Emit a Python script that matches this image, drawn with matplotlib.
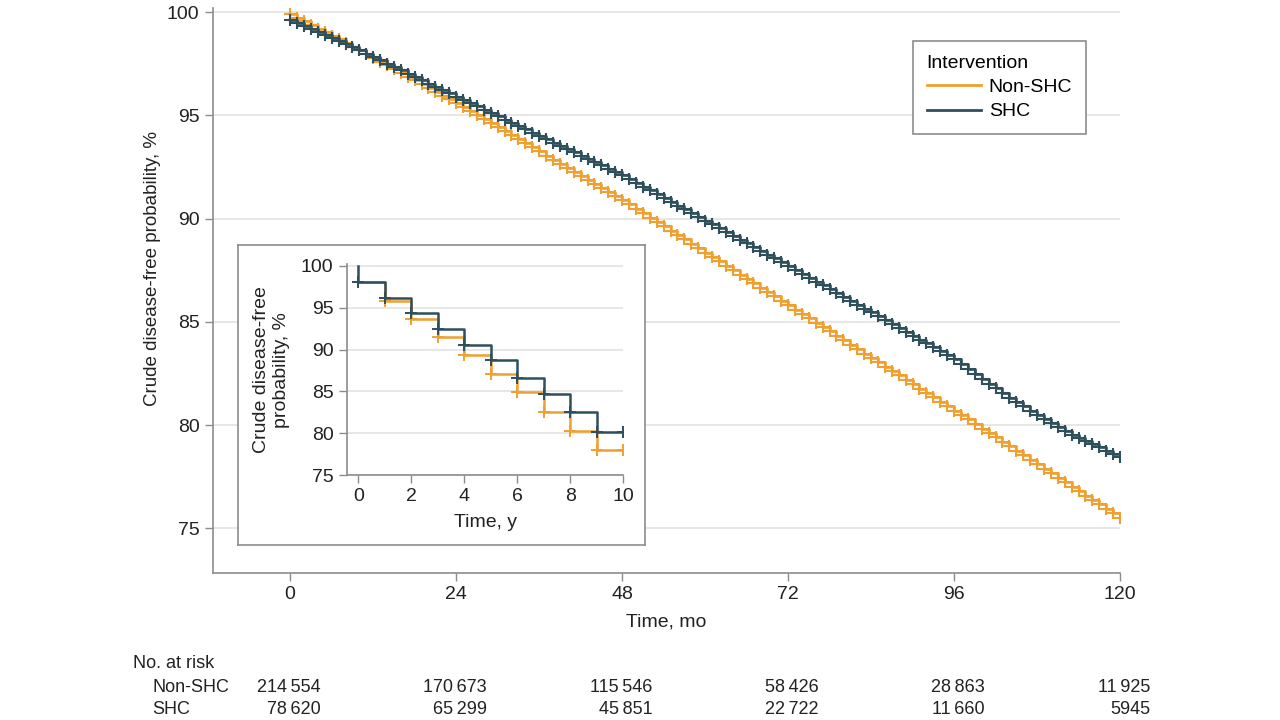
import numpy as np
import matplotlib.pyplot as plt
from matplotlib.lines import Line2D

plt.rcParams['font.family'] = ['Liberation Sans Narrow', 'Liberation Sans', 'DejaVu Sans']

ORANGE = '#F0A030'
TEAL = '#2E4F5C'
GRID = '#E3E3E3'
SPINE = '#8C8C8C'
TEXT = '#222222'

months = np.arange(0, 121)
non_shc_main = [
    99.90, 99.73, 99.55, 99.38, 99.20, 99.03, 98.85, 98.68, 98.50, 98.33,
    98.15, 97.97, 97.79, 97.60, 97.42, 97.24, 97.06, 96.87, 96.69, 96.51,
    96.33, 96.15, 95.96, 95.78, 95.60, 95.40, 95.21, 95.01, 94.82, 94.62,
    94.42, 94.23, 94.03, 93.84, 93.64, 93.45, 93.25, 93.05, 92.86, 92.66,
    92.47, 92.27, 92.08, 91.88, 91.68, 91.49, 91.29, 91.10, 90.90, 90.69,
    90.48, 90.26, 90.05, 89.84, 89.63, 89.41, 89.20, 88.99, 88.78, 88.56,
    88.35, 88.14, 87.93, 87.71, 87.50, 87.29, 87.08, 86.86, 86.65, 86.44,
    86.23, 86.01, 85.80, 85.59, 85.38, 85.16, 84.95, 84.74, 84.53, 84.31,
    84.10, 83.89, 83.68, 83.46, 83.25, 83.04, 82.83, 82.61, 82.40, 82.19,
    81.98, 81.76, 81.55, 81.34, 81.13, 80.91, 80.70, 80.48, 80.27, 80.05,
    79.83, 79.62, 79.40, 79.18, 78.97, 78.75, 78.53, 78.32, 78.10, 77.88,
    77.67, 77.45, 77.23, 77.02, 76.80, 76.58, 76.37, 76.15, 75.93, 75.72,
    75.50,
]
shc_main = [
    99.60, 99.46, 99.31, 99.17, 99.02, 98.88, 98.73, 98.59, 98.44, 98.30,
    98.15, 97.99, 97.83, 97.67, 97.51, 97.35, 97.19, 97.02, 96.86, 96.70,
    96.54, 96.38, 96.22, 96.06, 95.90, 95.74, 95.58, 95.43, 95.27, 95.11,
    94.95, 94.79, 94.63, 94.48, 94.32, 94.16, 94.00, 93.84, 93.68, 93.53,
    93.37, 93.21, 93.05, 92.89, 92.73, 92.58, 92.42, 92.26, 92.10, 91.92,
    91.73, 91.55, 91.37, 91.18, 91.00, 90.82, 90.63, 90.45, 90.27, 90.08,
    89.90, 89.72, 89.53, 89.35, 89.17, 88.98, 88.80, 88.62, 88.43, 88.25,
    88.07, 87.88, 87.70, 87.51, 87.33, 87.14, 86.95, 86.76, 86.58, 86.39,
    86.20, 86.01, 85.83, 85.64, 85.45, 85.26, 85.08, 84.89, 84.70, 84.51,
    84.33, 84.14, 83.95, 83.76, 83.58, 83.39, 83.20, 82.96, 82.73, 82.49,
    82.25, 82.01, 81.78, 81.54, 81.30, 81.10, 80.90, 80.70, 80.50, 80.30,
    80.10, 79.90, 79.70, 79.54, 79.39, 79.23, 79.08, 78.92, 78.76, 78.61,
    78.45,
]

# inset, yearly steps
years = [0, 1, 2, 3, 4, 5, 6, 7, 8, 9, 10]
non_shc_inset = [98.0, 95.8, 93.6, 91.5, 89.4, 87.1, 84.9, 82.6, 80.3, 78.0, 78.0]
shc_inset = [98.0, 96.2, 94.3, 92.5, 90.5, 88.7, 86.6, 84.7, 82.6, 80.2, 80.2]
inset_start = 100.0

# number at risk
risk_times = [0, 24, 48, 72, 96, 120]
risk_non_shc = ['214\u2009554', '170\u2009673', '115\u2009546', '58\u2009426', '28\u2009863', '11\u2009925']
risk_shc = ['78\u2009620', '65\u2009299', '45\u2009851', '22\u2009722', '11\u2009660', '5945']


def style_axes(ax):
    for side in ['top', 'right']:
        ax.spines[side].set_visible(False)
    for side in ['left', 'bottom']:
        ax.spines[side].set_color(SPINE)
        ax.spines[side].set_linewidth(1.2)
    ax.tick_params(colors=SPINE, labelcolor=TEXT, length=6, width=1.0)
    ax.yaxis.grid(True, color=GRID, linewidth=1.2)
    ax.set_axisbelow(True)


fig = plt.figure(figsize=(12.8, 7.2), dpi=100)

# main panel
ax = fig.add_axes([0.1662, 0.2047, 0.7088, 0.7842])
style_axes(ax)
ax.step(months, non_shc_main, where='post', color=ORANGE, lw=1.9,
        marker='+', ms=8, mew=1.5, label='Non-SHC')
ax.step(months, shc_main, where='post', color=TEAL, lw=1.9,
        marker='+', ms=8, mew=1.5, label='SHC')
ax.set_xlim(-11.2, 120)
ax.set_ylim(72.85, 100.2)
ax.set_xticks([0, 24, 48, 72, 96, 120])
ax.set_yticks([75, 80, 85, 90, 95, 100])
ax.tick_params(labelsize=14)
ax.set_xlabel('Time, mo', fontsize=14, color=TEXT, labelpad=8)
ax.set_ylabel('Crude disease-free probability, %', fontsize=13.5, color=TEXT)
ax.yaxis.set_label_coords(-0.057, 0.538)

handles = [Line2D([], [], color=ORANGE, lw=2), Line2D([], [], color=TEAL, lw=2)]
leg = ax.legend(handles, ['Non-SHC', 'SHC'], title='Intervention',
                loc='upper right', bbox_to_anchor=(0.9625, 0.9415),
                borderaxespad=0, fontsize=14, title_fontsize=14, fancybox=False,
                edgecolor=SPINE, framealpha=1, handlelength=2.8,
                borderpad=0.7, labelspacing=0.35, handletextpad=0.4)
leg._legend_box.align = 'left'
leg.get_frame().set_linewidth(1.2)

# inset box
box = fig.add_axes([0.1863, 0.2424, 0.3176, 0.4174])
box.set_xticks([])
box.set_yticks([])
box.set_facecolor('white')
for s in box.spines.values():
    s.set_color(SPINE)
    s.set_linewidth(1.2)

ins = fig.add_axes([0.2709, 0.3399, 0.2161, 0.2934])
style_axes(ins)
ins.set_facecolor('none')
ins.step(years, non_shc_inset, where='post', color=ORANGE, lw=1.8,
         marker='+', ms=9, mew=1.4)
shc_x = [years[0]] + years
shc_y = [inset_start] + shc_inset
ins.step(shc_x, shc_y, where='post', color=TEAL, lw=1.8,
         marker='+', ms=9, mew=1.4, markevery=list(range(1, len(shc_x))))
ins.set_xlim(-0.44, 10)
ins.set_ylim(75, 100.2)
ins.set_xticks([0, 2, 4, 6, 8, 10])
ins.set_yticks([75, 80, 85, 90, 95, 100])
ins.tick_params(labelsize=14)
ins.set_xlabel('Time, y', fontsize=14, color=TEXT, labelpad=6)
ins.set_ylabel('Crude disease-free\nprobability, %', fontsize=14, color=TEXT,
               labelpad=8, multialignment='center')

# number at risk table
row_y = [1 - 663 / 720, 1 - 687 / 720, 1 - 709 / 720]
fig.text(133 / 1280, row_y[0], 'No. at risk', fontsize=13, color=TEXT, va='center')
fig.text(152 / 1280, row_y[1], 'Non-SHC', fontsize=13, color=TEXT, va='center')
fig.text(152 / 1280, row_y[2], 'SHC', fontsize=13, color=TEXT, va='center')
for t, a, b in zip(risk_times, risk_non_shc, risk_shc):
    ax.annotate(a, xy=(t + 4.4, row_y[1]), xycoords=('data', 'figure fraction'),
                ha='right', va='center', fontsize=13, color=TEXT, annotation_clip=False)
    ax.annotate(b, xy=(t + 4.4, row_y[2]), xycoords=('data', 'figure fraction'),
                ha='right', va='center', fontsize=13, color=TEXT, annotation_clip=False)

fig.savefig('out.png', dpi=100, facecolor='white')
